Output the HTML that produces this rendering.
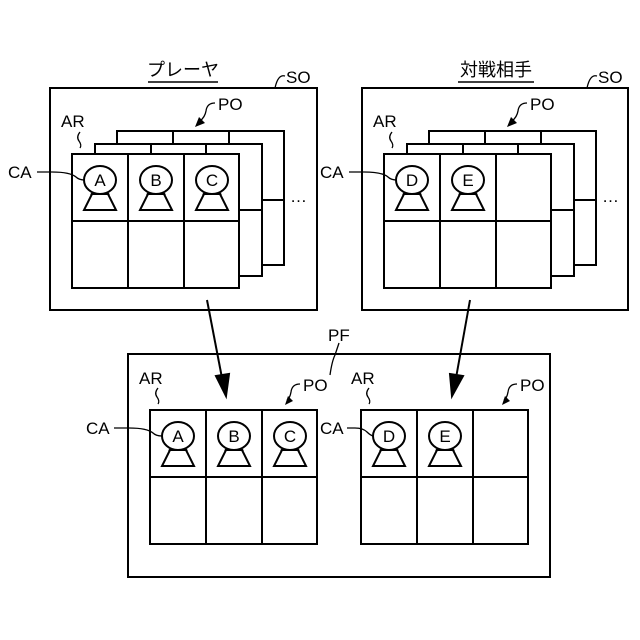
<!DOCTYPE html>
<html><head><meta charset="utf-8"><style>html,body{margin:0;padding:0;background:#fff}svg{display:block}text{font-family:"Liberation Sans","Noto Sans CJK JP",sans-serif;fill:#000}</style></head><body>
<svg width="640" height="640" viewBox="0 0 640 640" xmlns="http://www.w3.org/2000/svg">
<defs>
<g id="ch" fill="#fff" stroke="#000" stroke-width="2">
<line x1="-6" y1="11" x2="-9" y2="15"/><line x1="6" y1="11" x2="9" y2="15"/>
<polygon points="-8,14 8,14 16,30 -16,30"/>
<ellipse cx="0" cy="0" rx="16" ry="14"/>
</g>
<g id="stack" fill="#fff" stroke="#000" stroke-width="2">
<rect x="117" y="131" width="167" height="134"/>
<line x1="173" y1="131" x2="173" y2="144"/><line x1="229" y1="131" x2="229" y2="144"/><line x1="262" y1="200" x2="284" y2="200"/>
<rect x="95" y="144" width="167" height="132"/>
<line x1="151" y1="144" x2="151" y2="154"/><line x1="206" y1="144" x2="206" y2="154"/><line x1="239" y1="210" x2="262" y2="210"/>
</g>
<g id="grid" fill="#fff" stroke="#000" stroke-width="2">
<rect x="0" y="0" width="167" height="134"/>
<line x1="56" y1="0" x2="56" y2="134"/><line x1="112" y1="0" x2="112" y2="134"/><line x1="0" y1="67" x2="167" y2="67"/>
</g>
</defs>
<g fill="none" stroke="#000" stroke-width="2">
<rect x="50" y="88" width="267" height="222"/>
<rect x="362" y="88" width="266" height="222"/>
<rect x="128" y="354" width="422" height="223"/>
</g>
<use href="#stack"/>
<use href="#grid" x="72" y="154"/>
<use href="#stack" x="312"/>
<use href="#grid" x="384" y="154"/>
<use href="#grid" x="150" y="410"/>
<use href="#grid" x="361" y="410"/>
<use href="#ch" x="100" y="180"/><use href="#ch" x="156" y="180"/><use href="#ch" x="212" y="180"/>
<use href="#ch" x="412" y="180"/><use href="#ch" x="468" y="180"/>
<use href="#ch" x="178" y="436"/><use href="#ch" x="234" y="436"/><use href="#ch" x="290" y="436"/>
<use href="#ch" x="389" y="436"/><use href="#ch" x="445" y="436"/>
<g font-size="17" text-anchor="middle">
<text x="100" y="186">A</text><text x="156" y="186">B</text><text x="212" y="186">C</text>
<text x="412" y="186">D</text><text x="468" y="186">E</text>
<text x="178" y="442">A</text><text x="234" y="442">B</text><text x="290" y="442">C</text>
<text x="389" y="442">D</text><text x="445" y="442">E</text>
</g>
<g stroke="#000" stroke-width="2" fill="#000">
<line x1="207" y1="300" x2="222" y2="378"/><polygon points="216,376 229,374 226,396"/>
<line x1="470" y1="300" x2="456" y2="378"/><polygon points="450,374 463,376 452,396"/>
</g>
<g fill="none" stroke="#000" stroke-width="1.3">
<path d="M275,88 q3,-14 10,-12"/><path d="M587,88 q3,-14 10,-12"/>
<path d="M80,132 q-4,5 -1,9 q3,4 1,7"/><path d="M392,132 q-4,5 -1,9 q3,4 1,7"/>
<path d="M158,388 q-4,5 -1,9 q3,4 1,7"/><path d="M369,388 q-4,5 -1,9 q3,4 1,7"/>
<path d="M37,172 h15 q18,0 24,5 q3,3 9,3"/><path d="M349,172 h15 q18,0 24,5 q3,3 9,3"/>
<path d="M114,428 h15 q18,0 24,5 q3,3 9,3"/><path d="M347,428 h8 q8,0 12,4 q3,3 6,4"/>
<path d="M330,375 q2,-14 5,-20 q2,-6 4,-12"/>
<path d="M215,103 q-8,0 -9,8 q-1,6 -6,10"/><path d="M527,103 q-8,0 -9,8 q-1,6 -6,10"/>
<path d="M300,384 q-8,0 -9,8 q-1,6 -4,8"/><path d="M517,384 q-8,0 -9,8 q-1,6 -4,8"/>
</g>
<g fill="#000">
<polygon points="195,127 199,117 205,123"/><polygon points="507,127 511,117 517,123"/>
<polygon points="285,405 288,396 293,401"/><polygon points="502,405 505,396 510,401"/>
</g>
<g font-size="17">
<text x="286" y="83">SO</text><text x="598" y="83">SO</text>
<text x="218" y="110">PO</text><text x="530" y="110">PO</text>
<text x="61" y="127">AR</text><text x="373" y="127">AR</text>
<text x="8" y="178">CA</text><text x="320" y="178">CA</text>
<text x="290" y="202">…</text><text x="602" y="202">…</text>
<text x="328" y="341">PF</text>
<text x="139" y="384">AR</text><text x="351" y="384">AR</text>
<text x="303" y="391">PO</text><text x="520" y="391">PO</text>
<text x="86" y="434">CA</text><text x="320" y="434">CA</text>
</g>
<g font-size="18" text-anchor="middle">
<text x="183" y="76">プレーヤ</text><text x="496" y="76">対戦相手</text>
</g>
<g stroke="#000" stroke-width="1.5"><line x1="148" y1="82" x2="218" y2="82"/><line x1="458" y1="82" x2="534" y2="82"/></g>
</svg>
</body></html>
